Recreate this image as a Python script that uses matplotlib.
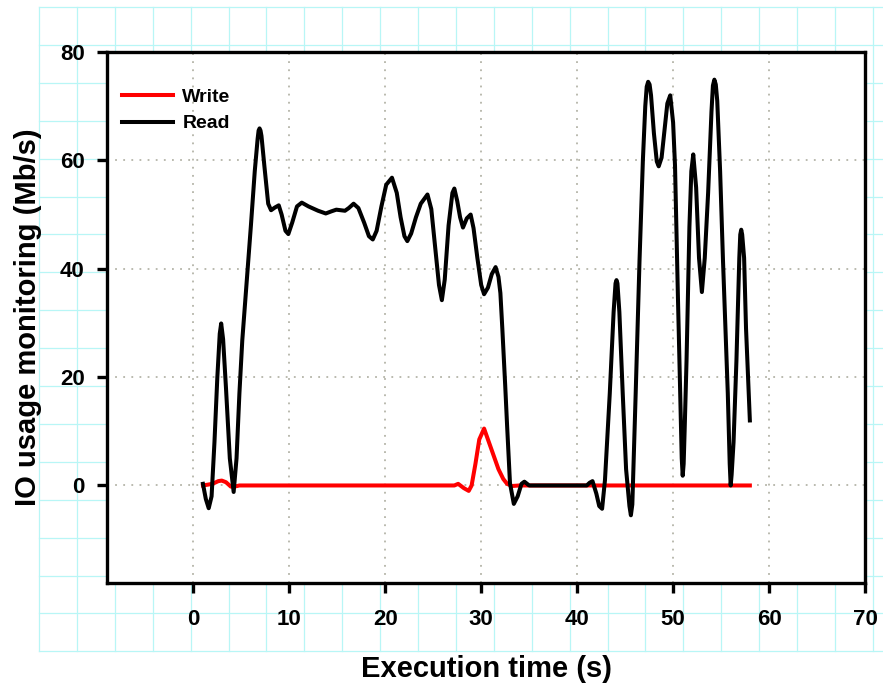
import numpy as np
import matplotlib
matplotlib.use('Agg')
from matplotlib import pyplot as plt
from matplotlib.lines import Line2D

#=======================================
# Data
#=======================================
read_t = [1.0, 1.3, 1.6, 1.9, 2.2, 2.5, 2.75, 2.9, 3.1, 3.4, 3.8, 4.2,
          4.5, 4.8, 5.1, 5.57, 6.0, 6.4, 6.7, 6.8, 6.9, 7.0, 7.1, 7.4,
          7.8, 8.1, 8.5, 8.9, 9.2, 9.6, 9.9, 10.3, 10.8, 11.3, 12.0,
          13.0, 13.8, 14.4, 14.9, 15.8, 16.2, 16.7, 17.2, 17.8, 18.3,
          18.7, 19.1, 19.6, 20.1, 20.7, 21.2, 21.6, 22.0, 22.3, 22.7,
          23.2, 23.7, 24.4, 24.8, 25.2, 25.6, 25.9, 26.2, 26.6, 27.0,
          27.2, 27.5, 27.8, 28.1, 28.5, 28.9, 29.2, 29.6, 30.0, 30.3,
          30.7, 31.1, 31.5, 31.8, 32.0, 32.2, 32.5, 32.7, 33.0, 33.4,
          33.8, 34.2, 34.5, 35.0, 41.0, 41.3, 41.6, 42.0, 42.3, 42.6,
          42.9, 43.4, 43.8, 44.0, 44.1, 44.2, 44.4, 44.75, 45.1, 45.45,
          45.6, 45.75, 46.1, 46.5, 46.85, 47.1, 47.25, 47.4, 47.55,
          47.7, 48.0, 48.3, 48.5, 48.8, 49.1, 49.4, 49.7, 50.0, 50.2,
          50.5, 50.8, 50.9, 51.0, 51.1, 51.2, 51.4, 51.7, 51.9, 52.1,
          52.4, 52.7, 53.0, 53.3, 53.65, 54.0, 54.15, 54.3, 54.45, 54.6,
          54.9, 55.2, 55.7, 55.9, 56.0, 56.1, 56.3, 56.6, 56.9, 57.0,
          57.1, 57.2, 57.4, 57.6, 58.0]
read_v = [0.3, -2.5, -4.2, -2.0, 8, 20, 28, 29.9, 27, 18, 5, -1.2,
          5, 17, 26.8, 37.9, 48, 58, 64, 65.5, 65.9, 65.5, 64.5, 59,
          52, 50.8, 51.3, 51.7, 50, 47, 46.4, 48.5, 51.5, 52.2, 51.5,
          50.7, 50.2, 50.6, 50.9, 50.7, 51.2, 52.0, 51.2, 48.5, 46,
          45.4, 47, 51.5, 55.5, 56.8, 54, 49.5, 46, 45.1, 46.5,
          49.5, 52, 53.7, 51, 44, 37, 34.2, 38, 48, 54,
          54.8, 52.5, 49.5, 47.6, 49.3, 50.0, 47.5, 42, 37, 35.3,
          36.5, 39, 40.3, 38.5, 35.5, 29, 18.5, 11, 0.4, -3.4,
          -2, 0.3, 0.7, 0.0, 0.0, 0.5, 0.8, -1.5, -3.8, -4.3,
          1, 17, 32, 37.3, 37.9, 37.3, 32, 17, 3, -3.8,
          -5.5, -3.5, 17, 41.5, 60, 70, 73.6, 74.5, 74.0,
          72, 65, 59.8, 58.9, 60.5, 65.5, 70.5, 72.0, 67, 59,
          35, 12, 5, 1.8, 4, 10, 23, 47.7, 58, 61.1,
          55, 42, 35.7, 42, 54, 69, 73.8, 74.9, 74.0, 71,
          58, 41.5, 17, 4, 0.0, 2, 8, 23, 42, 46.3,
          47.2, 46.3, 42, 29, 12.0]

write_t = [1.0, 2.0, 2.6, 2.96, 3.4, 3.9, 4.3, 4.8, 27.2, 27.6, 28.2,
           28.7, 29.0, 29.4, 29.8, 30.3, 30.8, 31.3, 31.8, 32.3, 32.7,
           33.2, 34.0, 58.0]
write_v = [0, 0.3, 0.8, 0.9, 0.6, -0.2, -0.2, 0, 0, 0.3, -0.5,
           -1.0, 0, 4, 8.5, 10.5, 8, 5.5, 3, 1.2, 0.3,
           -0.1, 0, 0]

x_ticks = [0, 10, 20, 30, 40, 50, 60, 70]
y_ticks = [0, 20, 40, 60, 80]

#=======================================
# Figure
#=======================================
plt.rcParams['font.family'] = ['Liberation Sans', 'DejaVu Sans']
plt.rcParams['font.weight'] = 'bold'

W, H = 883, 687
fig = plt.figure(figsize=(W / 100, H / 100), dpi=100)

# light cyan "graph paper" behind the plot
step = 37.9
gx = 39 + step * np.arange(23)
gy = 7 + step * np.arange(18)
for x in gx:
    fig.add_artist(Line2D([x / W, x / W], [1 - 7 / H, 1 - gy[-1] / H],
                          color='#b8f6f6', lw=0.9, zorder=0))
for y in gy:
    fig.add_artist(Line2D([39 / W, 1], [1 - y / H, 1 - y / H],
                          color='#b8f6f6', lw=0.9, zorder=0))

ax = fig.add_axes([107 / W, 1 - 583 / H, (865 - 107) / W, (583 - 52) / H])
ax.set_facecolor('white')

ax.plot(write_t, write_v, color='#ff0000', lw=2.9, label='Write', zorder=3,
        solid_joinstyle='round')
ax.plot(read_t, read_v, color='black', lw=2.9, label='Read', zorder=4,
        solid_joinstyle='round')

ax.set_xlim(-9, 70)
ax.set_ylim(-18, 80)
ax.set_xticks(x_ticks)
ax.set_yticks(y_ticks)
ax.tick_params(direction='out', length=7, width=2.4, labelsize=16)
ax.tick_params(axis='x', pad=12)
ax.tick_params(axis='y', pad=9)
for s in ax.spines.values():
    s.set_linewidth(2.4)
ax.grid(True, color='#b4b4a8', linestyle=(0, (1, 3.5)), lw=1.3)

ax.set_xlabel('Execution time (s)', fontsize=21, fontweight='bold', labelpad=18)
ax.set_ylabel('IO usage monitoring (Mb/s)', fontsize=21, fontweight='bold', labelpad=13)

ax.legend(loc='upper left', bbox_to_anchor=(0.0095, 0.946), borderaxespad=0,
          frameon=False, fontsize=14, handlelength=2.6, handletextpad=0.5,
          labelspacing=0.45)

fig.savefig('out.png', dpi=100)
